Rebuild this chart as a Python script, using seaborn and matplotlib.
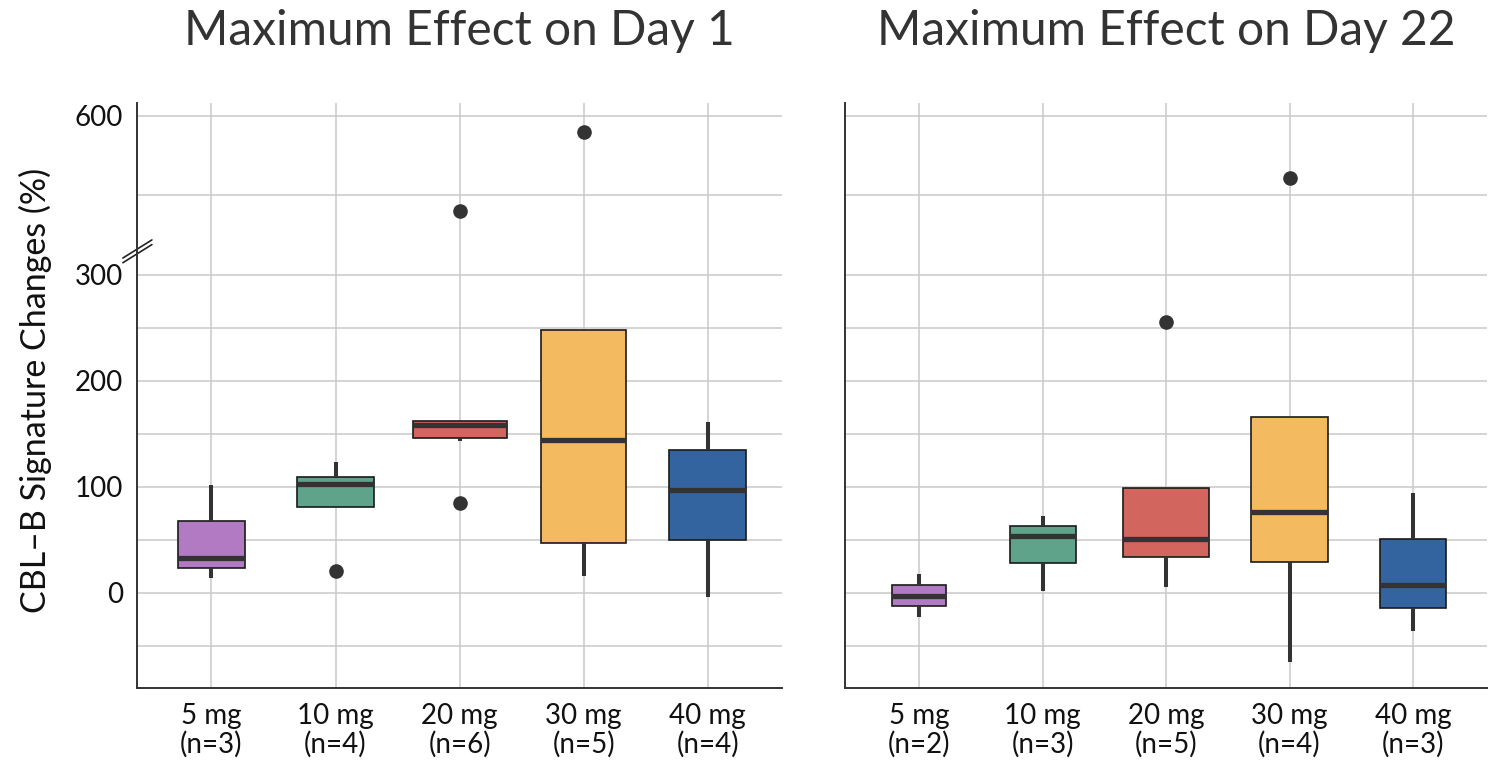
import numpy as np
import pandas as pd
import matplotlib.pyplot as plt
import seaborn as sns

# values (CBL-B signature change, %)
doses = ['5 mg', '10 mg', '20 mg', '30 mg', '40 mg']
colors = ['#B27AC3', '#5FA38B', '#D3655F', '#F3BA5F', '#34649F']

day1_n = [3, 4, 6, 5, 4]
day1_5mg = [14, 33, 102]
day1_10mg = [20, 101, 104.5, 123]
day1_20mg = [85, 143, 155, 161, 162, 420]
day1_30mg = [16, 47, 144, 248, 570]
day1_40mg = [-4, 67, 126, 161]

day22_n = [2, 3, 5, 4, 3]
day22_5mg = [-23, 17.5]
day22_10mg = [2, 53, 72]
day22_20mg = [5, 34, 51, 99, 255]
day22_30mg = [-65, 29, 76, 166, 482]  # box summary as drawn
day22_40mg = [-36, 7, 94]

day1 = [day1_5mg, day1_10mg, day1_20mg, day1_30mg, day1_40mg]
day22 = [day22_5mg, day22_10mg, day22_20mg, day22_30mg, day22_40mg]

sns.set_style('white')
plt.rcParams['font.family'] = ['Lato', 'DejaVu Sans']


# broken axis: above 300 the scale is squeezed by half
def fwd(y):
    y = np.asarray(y, dtype=float)
    return np.where(y <= 300, y, 300 + (y - 300) / 2)


def inv(t):
    t = np.asarray(t, dtype=float)
    return np.where(t <= 300, t, 300 + 2 * (t - 300))


fig = plt.figure(figsize=(14.98, 7.62), dpi=100)
ax1 = fig.add_axes([0.0915, 0.0971, 0.4306, 0.7677])
ax2 = fig.add_axes([0.5641, 0.0971, 0.4286, 0.7677])

panels = [(ax1, day1, day1_n, 'Maximum Effect on Day 1'),
          (ax2, day22, day22_n, 'Maximum Effect on Day 22')]

for ax, groups, counts, title in panels:
    ax.set_yscale('function', functions=(fwd, inv))
    for dose, vals, n, col in zip(doses, groups, counts, colors):
        df = pd.DataFrame({'dose': dose, 'change': vals})
        # box width grows with sqrt(n); stats are taken on the squeezed scale
        sns.boxplot(data=df, x='dose', y='change', order=doses, ax=ax,
                    color=col, saturation=1, width=0.309 * np.sqrt(n), whis=0.9,
                    boxprops=dict(edgecolor='#1a1a1a', linewidth=1.2),
                    medianprops=dict(color='#333333', linewidth=3.8),
                    whiskerprops=dict(color='#333333', linewidth=2.9),
                    capprops=dict(linewidth=0),
                    flierprops=dict(marker='o', markerfacecolor='#333333',
                                    markeredgecolor='#333333', markersize=9.5))
    ax.set_xlim(-0.6, 4.6)
    ax.set_ylim(-90, 624)
    ax.set_yticks([0, 100, 200, 300, 600])
    ax.set_yticks([-50, 50, 150, 250, 450], minor=True)
    ax.set_xticks(range(len(doses)))
    ax.set_xticklabels([f'{d}\n(n={n})' for d, n in zip(doses, counts)],
                       fontsize=20, linespacing=1.05)
    ax.grid(True, which='both', color='#c9c9c9', linewidth=1.1)
    ax.set_axisbelow(True)
    ax.set_xlabel('')
    ax.set_ylabel('')
    for s in ['top', 'right']:
        ax.spines[s].set_visible(False)
    for s in ['left', 'bottom']:
        ax.spines[s].set_color('#333333')
        ax.spines[s].set_linewidth(1.4)
    ax.tick_params(axis='x', length=5, width=1.2, color='#333333', pad=6,
                   labelcolor='#111111')
    ax.tick_params(axis='y', which='minor', length=0)
    ax.set_title(title, fontsize=34.5, color='#333333', pad=42)

ax1.tick_params(axis='y', which='major', length=6, width=1.2, color='#333333',
                labelsize=20, pad=4, labelcolor='#111111')
ax2.tick_params(axis='y', which='major', length=0, labelleft=False)

# break marks on the left axis
for dy in [0.0, -0.008]:
    ax1.plot([-0.022, 0.023], [0.735 + dy, 0.766 + dy], transform=ax1.transAxes,
             color='#222222', linewidth=1.2, clip_on=False)

fig.text(0.0234, 0.487, 'CBL–B Signature Changes (%)', rotation=90,
         ha='center', va='center', fontsize=24.5, color='#111111')

plt.savefig('out.png', dpi=100)
